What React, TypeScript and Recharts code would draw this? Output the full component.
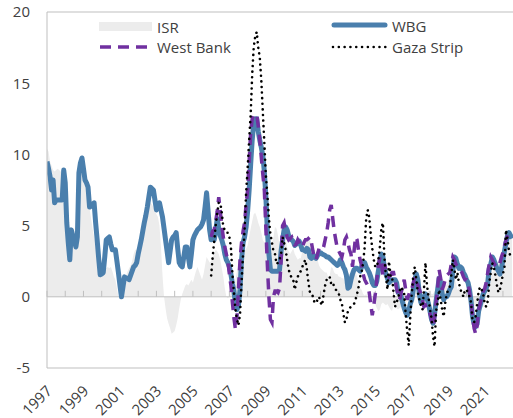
import { ComposedChart, Area, Line, XAxis, YAxis, ReferenceLine, Legend } from 'recharts';

// monthly series, Jan 1997 .. Jul 2022
const START_YEAR = 1997;

const isr = [
  10.4, 10.2, 9.5, 9.2, 8.9, 8.8, 8.9, 9.0, 8.9, 8.8, 8.5, 8.0, // 1997
  6.5, 5.0, 4.5, 4.2, 4.2, 4.0, 4.2, 5.0, 7.0, 8.5, 9.3, 9.5, // 1998
  9.3, 8.9, 8.0, 6.5, 6.2, 5.5, 4.8, 4.2, 3.8, 3.0, 2.5, 2.2, // 1999
  2.0, 2.2, 2.1, 2.0, 2.1, 2.0, 2.1, 1.8, 1.4, 1.2, 0.6, 0.0, // 2000
  0.0, 0.3, 0.8, 1.2, 1.5, 1.8, 2.0, 2.2, 2.5, 3.0, 3.3, 3.3, // 2001
  2.8, 3.3, 3.8, 4.5, 5.2, 5.8, 6.2, 6.5, 6.6, 6.5, 6.3, 6.0, // 2002
  5.8, 5.6, 5.0, 3.5, 1.5, 0.0, -0.8, -1.5, -1.9, -2.2, -2.6, -2.5, // 2003
  -2.4, -2.0, -1.5, -0.8, -0.2, 0.2, 0.5, 0.8, 0.9, 0.8, 1.0, 1.2, // 2004
  1.0, 1.4, 1.8, 2.1, 1.8, 1.5, 1.2, 1.6, 2.2, 2.8, 2.6, 2.4, // 2005
  2.5, 2.8, 3.0, 3.3, 3.2, 3.0, 2.6, 2.0, 1.4, 0.6, 0.0, -0.1, // 2006
  0.0, 0.3, 0.5, 0.6, 1.2, 1.8, 2.2, 2.6, 2.8, 3.0, 3.2, 3.4, // 2007
  3.6, 4.2, 4.8, 5.3, 5.8, 5.9, 5.6, 5.2, 4.9, 4.5, 4.0, 3.8, // 2008
  3.3, 2.8, 3.2, 3.5, 3.8, 4.2, 4.9, 4.8, 4.3, 3.6, 3.3, 3.9, // 2009
  4.0, 4.1, 3.5, 3.2, 3.0, 3.2, 3.4, 3.0, 2.8, 2.6, 2.7, 2.7, // 2010
  3.2, 3.6, 4.2, 4.0, 4.2, 4.0, 3.5, 3.0, 2.8, 2.6, 2.6, 2.2, // 2011
  2.0, 1.9, 1.8, 1.7, 1.7, 1.4, 1.5, 2.1, 2.0, 1.7, 1.6, 1.6, // 2012
  1.4, 1.4, 1.3, 1.3, 1.0, 1.4, 1.7, 1.6, 1.4, 1.6, 1.9, 1.8, // 2013
  1.4, 1.0, 0.6, 0.5, 0.2, 0.1, 0.2, 0.0, -0.1, -0.3, -0.2, -0.2, // 2014
  -0.5, -0.8, -1.0, -0.9, -0.5, -0.4, -0.5, -0.6, -0.5, -0.7, -0.9, -1.0, // 2015
  -0.6, -0.6, -0.8, -0.9, -0.8, -0.7, -0.5, -0.6, -0.4, -0.3, -0.3, -0.2, // 2016
  0.3, 0.6, 1.0, 0.9, 0.7, 0.4, -0.2, -0.1, -0.3, 0.0, 0.3, 0.4, // 2017
  0.4, 0.2, 0.2, 0.4, 0.4, 1.1, 1.4, 1.2, 1.2, 1.2, 1.1, 0.8, // 2018
  1.2, 1.3, 1.4, 1.4, 1.3, 1.0, 0.5, 0.6, 0.6, 0.4, 0.3, 0.6, // 2019
  0.3, 0.1, -0.1, -0.6, -0.5, -0.6, -0.7, -0.6, -0.6, -0.8, -0.7, -0.7, // 2020
  -0.4, 0.0, 0.4, 0.8, 1.5, 1.7, 1.8, 2.2, 2.5, 2.4, 2.5, 2.8, // 2021
  3.1, 3.5, 3.5, 4.0, 4.0, 4.1, 4.4, // 2022
];

const wbg = [
  9.5, 9.0, 8.45, 7.5, 8.2, 6.6, 6.8, 6.8, 6.8, 6.8, 6.8, 8.9, // 1997
  8.0, 5.2, 3.8, 2.6, 4.7, 4.3, 3.9, 3.5, 4.2, 8.7, 9.4, 9.75, // 1998
  9.0, 8.2, 8.0, 7.7, 6.3, 6.4, 6.5, 6.6, 5.2, 4.0, 2.7, 1.55, // 1999
  1.6, 1.7, 2.8, 4.0, 4.1, 4.2, 3.7, 3.3, 3.3, 3.3, 2.5, 1.7, // 2000
  0.8, 0.0, 0.7, 1.4, 1.3, 1.3, 1.2, 1.5, 1.8, 2.1, 2.2, 2.4, // 2001
  3.0, 3.5, 4.0, 4.6, 5.2, 5.7, 6.3, 7.0, 7.7, 7.6, 7.5, 6.8, // 2002
  6.1, 6.3, 6.6, 6.1, 5.6, 4.8, 4.0, 3.2, 2.4, 3.2, 4.0, 4.2, // 2003
  4.3, 4.5, 3.4, 2.4, 2.2, 2.1, 2.8, 3.5, 3.5, 2.8, 2.1, 3.0, // 2004
  4.0, 4.3, 4.5, 4.7, 4.8, 4.9, 5.1, 5.4, 6.3, 7.3, 6.0, 4.7, // 2005
  4.0, 4.3, 4.0, 4.6, 5.5, 4.8, 4.3, 4.0, 3.6, 3.0, 2.6, 2.4, // 2006
  2.1, 1.6, 0.9, 0.4, -0.5, -0.9, -0.6, 0.5, 2.6, 3.8, 4.2, 4.9, // 2007
  6.0, 7.5, 9.3, 11.0, 12.2, 12.5, 12.5, 11.6, 11.0, 10.5, 9.9, 8.8, // 2008
  7.0, 4.6, 3.0, 1.9, 1.8, 1.8, 1.8, 1.8, 1.8, 1.9, 3.2, 4.0, // 2009
  4.7, 4.9, 4.7, 4.3, 4.1, 4.0, 3.9, 3.6, 3.7, 3.8, 3.9, 3.6, // 2010
  3.3, 3.3, 3.2, 3.4, 3.3, 2.8, 2.7, 2.9, 2.8, 2.7, 2.9, 3.1, // 2011
  3.1, 3.0, 2.95, 2.9, 2.8, 2.8, 2.7, 2.6, 2.5, 2.4, 2.3, 2.2, // 2012
  2.3, 2.6, 2.4, 2.1, 1.9, 1.5, 0.6, 0.7, 1.2, 1.6, 1.9, 2.0, // 2013
  2.0, 1.9, 1.8, 2.1, 2.4, 2.4, 2.1, 1.9, 1.7, 1.4, 1.0, 0.8, // 2014
  0.8, 1.1, 1.8, 2.4, 3.0, 2.8, 2.0, 1.6, 1.3, 1.0, 1.1, 1.2, // 2015
  1.2, 1.2, 1.0, 0.3, 0.3, 0.0, -0.4, -0.8, -1.1, -1.3, -1.0, -0.5, // 2016
  -0.2, 0.5, 1.2, 1.6, 1.2, 0.2, -0.4, -0.2, 0.0, 0.2, -0.1, -0.5, // 2017
  -1.0, -1.6, -1.85, -1.2, -0.3, 0.5, 1.3, 1.0, 0.2, -0.2, 0.0, 0.0, // 2018
  0.2, 0.5, 0.7, 1.8, 2.8, 2.7, 2.3, 2.0, 2.1, 2.0, 1.7, 1.5, // 2019
  1.2, 1.0, 0.5, -0.3, -1.4, -1.9, -2.1, -1.9, -1.0, -0.6, -0.2, 0.2, // 2020
  0.4, 0.6, 1.0, 2.0, 2.3, 2.8, 2.6, 2.3, 2.0, 1.8, 1.6, 2.0, // 2021
  2.6, 3.2, 3.8, 4.3, 4.5, 4.3, 4.1, // 2022
];

// West Bank and Gaza Strip start in Jan 2006
const SUB_START = 108;

const westBank = [
  4.2, 4.6, 4.7, 5.3, 6.0, 7.0, 6.0, 5.0, 4.2, 3.5, 3.0, 2.5, // 2006
  1.6, 0.8, -0.4, -1.5, -2.3, -1.4, 0.6, 2.6, 3.8, 4.6, 5.2, 6.5, // 2007
  7.5, 9.5, 11.5, 12.5, 12.8, 12.8, 12.8, 12.0, 11.0, 9.8, 8.6, 7.5, // 2008
  4.8, 2.2, 0.0, -1.6, -1.8, 0.0, 0.4, 0.4, 0.3, 0.6, 2.5, 5.0, // 2009
  5.2, 4.6, 4.2, 4.0, 4.1, 4.2, 3.9, 3.65, 3.7, 4.0, 3.8, 3.5, // 2010
  3.5, 3.8, 4.0, 4.0, 4.1, 4.2, 3.8, 3.2, 2.7, 2.6, 3.0, 3.4, // 2011
  3.3, 3.3, 3.5, 4.0, 4.5, 5.2, 6.1, 6.45, 5.5, 4.6, 4.0, 3.4, // 2012
  3.2, 3.0, 2.8, 3.3, 4.0, 4.2, 3.8, 3.3, 3.0, 2.1, 3.2, 4.2, // 2013
  4.0, 3.2, 2.6, 2.2, 1.6, 1.2, 1.0, 0.8, 0.3, -0.5, -1.3, -0.6, // 2014
  0.2, 1.2, 2.2, 2.8, 2.4, 1.5, 2.3, 1.9, 1.6, 1.4, 1.5, 1.7, // 2015
  1.7, 1.2, 0.6, 0.2, -0.2, 0.3, 0.7, 1.2, 0.5, -0.2, 0.1, 0.5, // 2016
  0.5, 1.0, 1.4, 1.2, 0.8, 0.5, 0.2, -0.2, -0.7, -0.6, -0.9, -0.9, // 2017
  -1.2, -1.6, -2.1, -1.5, -0.4, 0.6, 1.9, 1.3, 0.5, 0.8, 1.2, 1.5, // 2018
  1.6, 1.7, 2.3, 2.8, 2.6, 2.3, 2.1, 1.9, 1.8, 1.7, 1.4, 1.2, // 2019
  1.2, 1.0, 0.3, -0.4, -1.3, -2.2, -2.6, -2.0, -0.9, -0.5, 0.0, 0.4, // 2020
  0.6, 1.0, 1.7, 2.3, 2.8, 2.6, 2.35, 2.2, 2.1, 2.1, 2.4, 2.8, // 2021
  3.1, 3.6, 4.0, 4.3, 4.5, 4.5, 4.4, // 2022
];

const gaza = [
  1.5, 2.8, 3.9, 5.0, 5.9, 6.6, 6.6, 5.9, 4.9, 4.7, 4.5, 4.5, // 2006
  4.2, 3.5, 1.6, 0.3, -0.9, -1.6, -2.0, -1.2, 1.0, 3.0, 4.7, 7.3, // 2007
  9.0, 11.0, 12.8, 15.6, 17.5, 18.3, 18.6, 17.5, 16.8, 15.2, 13.0, 10.8, // 2008
  8.5, 7.2, 5.5, 4.4, 3.8, 3.2, 3.0, 2.3, 2.4, 2.6, 3.0, 4.2, // 2009
  3.8, 3.3, 2.6, 1.9, 1.6, 1.3, 1.2, 0.5, 1.0, 1.4, 1.7, 1.8, // 2010
  2.1, 2.4, 2.6, 1.9, 1.0, 0.3, 0.26, 0.0, -0.4, -0.45, -0.2, 0.0, // 2011
  -0.4, -0.6, 0.2, 0.8, 1.2, 1.2, 1.4, 0.9, 1.0, 0.7, 0.5, 0.4, // 2012
  0.2, -0.2, -0.45, -1.2, -1.8, -1.6, -1.0, -0.8, -0.7, -0.6, -0.5, -0.2, // 2013
  0.2, 0.7, 1.4, 1.7, 2.4, 3.5, 5.5, 6.1, 5.6, 4.4, 3.4, 2.6, // 2014
  2.1, 2.1, 2.6, 3.5, 4.8, 5.2, 2.8, 1.4, 0.5, 2.5, 1.5, 1.5, // 2015
  0.3, -0.7, -0.4, -0.1, 0.4, 0.7, 0.5, 0.2, -1.2, -2.4, -3.4, -1.4, // 2016
  0.2, 1.5, 2.1, 1.2, 0.3, -0.2, -0.6, -0.9, 0.5, 2.4, 0.8, 0.0, // 2017
  -0.9, -1.5, -2.8, -3.5, -1.0, -0.45, 0.5, -0.2, -0.9, -1.4, -0.45, 0.2, // 2018
  0.5, 0.7, 1.5, 2.6, 2.0, 1.2, 1.7, 1.0, 0.5, 0.3, 0.0, 0.5, // 2019
  0.5, 0.3, 0.0, -0.4, -1.7, -1.8, -1.4, -0.5, 0.4, 0.7, 0.5, 0.2, // 2020
  -0.5, -0.7, -0.3, 1.0, 1.7, 2.35, 2.1, 1.5, 0.8, 0.3, 0.5, 1.0, // 2021
  1.6, 2.1, 4.7, 4.0, 3.2, 2.8, 2.8, // 2022
];

const yearMarks = [
  1997, 1998, 1999, 2000, 2001, 2002, 2003, 2004, 2005, 2006, 2007, 2008, 2009,
  2010, 2011, 2012, 2013, 2014, 2015, 2016, 2017, 2018, 2019, 2020, 2021, 2022,
];
const xLabels = [1997, 1999, 2001, 2003, 2005, 2007, 2009, 2011, 2013, 2015, 2017, 2019, 2021];
const yTicks = [-5, 0, 5, 10, 15, 20];

const data = wbg.map((v, i) => ({
  t: START_YEAR + i / 12,
  isr: isr[i],
  wbg: v,
  westBank: i >= SUB_START ? westBank[i - SUB_START] : null,
  gaza: i >= SUB_START ? gaza[i - SUB_START] : null,
}));

const BLUE = '#4a7fad';
const PURPLE = '#7030a0';
const GREY_FILL = '#ececec';
const AXIS = '#bfbfbf';
const TEXT = '#404040';

const XTick = ({ x, y, payload }: any) => {
  const tx = x + 6;
  const ty = y + 16;
  return (
    <text x={tx} y={ty} textAnchor="end" fontSize={15} fill={TEXT} transform={`rotate(-45 ${tx} ${ty})`}>
      {payload.value}
    </text>
  );
};

const LegendBox = () => (
  <svg width={513} height={60} style={{ display: 'block' }}>
    <rect x={99} y={22} width={53} height={9} fill={GREY_FILL} />
    <text x={157} y={26.5} fontSize={15} fill={TEXT} dominantBaseline="central">ISR</text>
    <line x1={100} x2={152} y1={47} y2={47} stroke={PURPLE} strokeWidth={3.5} strokeDasharray="11 7" />
    <text x={157} y={47} fontSize={15} fill={TEXT} dominantBaseline="central">West Bank</text>
    <line x1={334} x2={385} y1={25} y2={25} stroke={BLUE} strokeWidth={5} strokeLinecap="round" />
    <text x={392} y={25.5} fontSize={15} fill={TEXT} dominantBaseline="central">WBG</text>
    <line x1={333} x2={386} y1={47} y2={47} stroke="#000" strokeWidth={2.6} strokeDasharray="0.01 5.8" strokeLinecap="round" />
    <text x={392} y={47} fontSize={15} fill={TEXT} dominantBaseline="central">Gaza Strip</text>
  </svg>
);

export default function App() {
  return (
    <div style={{ position: 'absolute', left: 0, top: 0, width: 513, height: 418, background: '#fff', fontFamily: "'Open Sans', sans-serif" }}>
      <ComposedChart width={513} height={418} data={data} margin={{ top: 12, right: 0, bottom: 0, left: 0 }}>
        <XAxis
          dataKey="t"
          type="number"
          domain={[1997, 2022.55]}
          ticks={xLabels}
          interval={0}
          tickLine={false}
          axisLine={{ stroke: AXIS }}
          tick={<XTick />}
          height={50}
          allowDataOverflow
        />
        <YAxis
          type="number"
          domain={[-5, 20]}
          ticks={yTicks}
          interval={0}
          tickLine={false}
          axisLine={{ stroke: AXIS }}
          tickMargin={11}
          width={47}
          tick={{ fontSize: 15, fill: TEXT }}
        />
        <Area dataKey="isr" type="linear" fill={GREY_FILL} fillOpacity={1} stroke="none" isAnimationActive={false} />
        <ReferenceLine y={20} stroke={AXIS} />
        <ReferenceLine y={0} stroke={AXIS} />
        {yearMarks.map((yr) => (
          <ReferenceLine key={yr} segment={[{ x: yr, y: 0 }, { x: yr, y: 0.42 }]} stroke={AXIS} />
        ))}
        <Line dataKey="wbg" type="linear" stroke={BLUE} strokeWidth={5} dot={false} strokeLinejoin="round" isAnimationActive={false} />
        <Line dataKey="westBank" type="linear" stroke={PURPLE} strokeWidth={3.5} strokeDasharray="11 7" dot={false} isAnimationActive={false} />
        <Line dataKey="gaza" type="linear" stroke="#000" strokeWidth={2.6} strokeDasharray="0.01 5.6" strokeLinecap="round" dot={false} isAnimationActive={false} />
        <Legend layout="vertical" align="center" verticalAlign="middle" wrapperStyle={{ top: 0, left: 0, width: 513, height: 60 }} content={() => <LegendBox />} />
      </ComposedChart>
    </div>
  );
}
